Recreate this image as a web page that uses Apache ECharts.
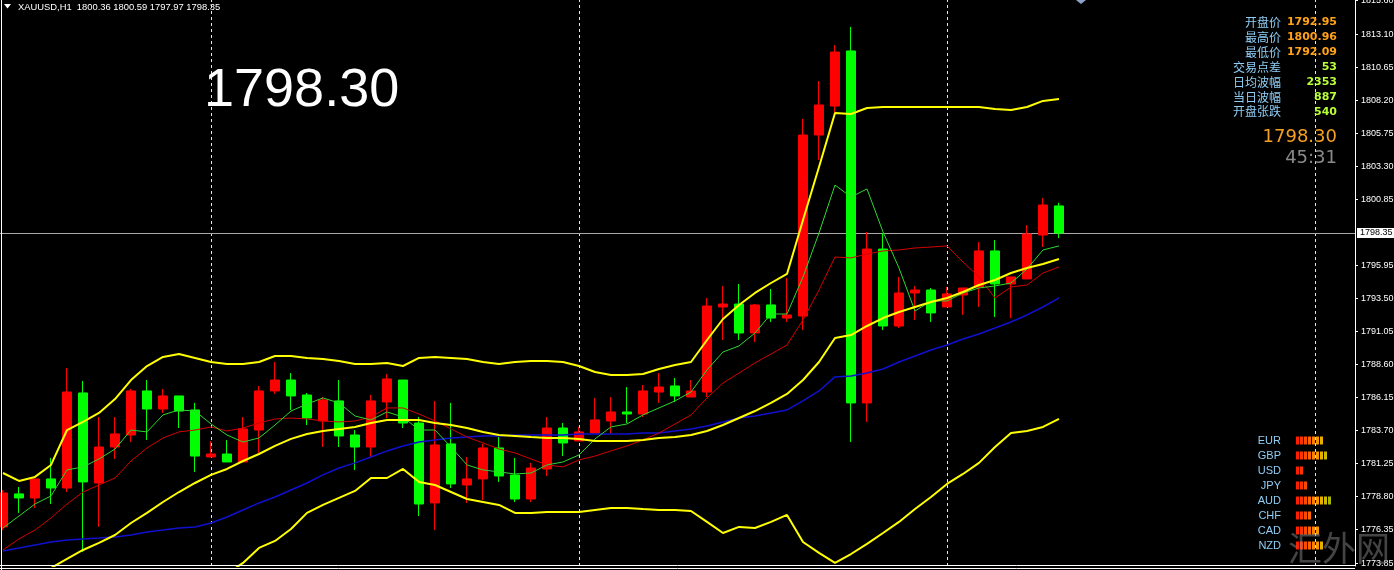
<!DOCTYPE html>
<html>
<head>
<meta charset="utf-8">
<title>XAUUSD,H1</title>
<script src="https://cdn.jsdelivr.net/npm/echarts@6/dist/echarts.min.js"></script>
<style>
  html, body { margin: 0; padding: 0; background: #000; }
  #main { width: 1394px; height: 570px; }
</style>
</head>
<body>
<div id="main"></div>
<script>
// 每根K线: [开盘, 收盘, 最低, 最高]
const candles = [
  [1776.54, 1779.06, 1776.31, 1779.28], [1778.99, 1778.69, 1777.58, 1779.50], [1778.69, 1780.10, 1777.95, 1780.10],
  [1780.10, 1779.43, 1778.24, 1781.66], [1779.43, 1786.55, 1779.13, 1788.33], [1786.48, 1779.88, 1774.68, 1787.37],
  [1779.80, 1782.47, 1776.54, 1784.70], [1782.47, 1783.44, 1781.58, 1784.70], [1783.36, 1786.63, 1782.84, 1786.78],
  [1786.63, 1785.29, 1782.99, 1787.44], [1785.29, 1786.26, 1785.00, 1786.78], [1786.26, 1785.14, 1783.88, 1786.26],
  [1785.22, 1781.80, 1780.62, 1785.74], [1781.73, 1781.95, 1781.73, 1782.92], [1781.95, 1781.36, 1781.36, 1782.99],
  [1781.36, 1783.81, 1781.36, 1784.70], [1783.73, 1786.63, 1782.03, 1787.00], [1786.63, 1787.44, 1786.41, 1788.78],
  [1787.44, 1786.26, 1785.22, 1787.96], [1786.33, 1784.62, 1784.10, 1786.48], [1784.40, 1785.96, 1782.47, 1786.18],
  [1785.89, 1783.29, 1782.47, 1787.44], [1783.36, 1782.47, 1780.77, 1783.73], [1782.47, 1785.89, 1781.73, 1786.33],
  [1785.81, 1787.52, 1784.62, 1787.89], [1787.44, 1784.25, 1783.88, 1787.44], [1784.25, 1778.24, 1777.35, 1784.70],
  [1778.32, 1782.62, 1776.31, 1785.89], [1782.70, 1779.73, 1779.43, 1785.74], [1779.65, 1780.10, 1778.32, 1781.73],
  [1780.10, 1782.40, 1778.54, 1782.70], [1782.40, 1780.32, 1779.88, 1783.21], [1780.39, 1778.61, 1778.39, 1781.66],
  [1778.61, 1780.91, 1778.39, 1781.29], [1780.84, 1783.88, 1780.32, 1784.70], [1783.88, 1782.77, 1781.80, 1784.25],
  [1782.92, 1783.59, 1782.92, 1783.96], [1783.51, 1784.48, 1783.51, 1786.11], [1784.40, 1785.07, 1783.51, 1786.18],
  [1785.07, 1784.92, 1784.25, 1786.92], [1784.92, 1786.63, 1784.70, 1787.07], [1786.55, 1786.92, 1785.74, 1787.96],
  [1787.00, 1786.26, 1785.81, 1787.59], [1786.18, 1786.63, 1786.18, 1787.44], [1786.55, 1792.93, 1786.18, 1793.53],
  [1792.86, 1793.08, 1790.41, 1794.42], [1793.08, 1790.93, 1790.41, 1794.57], [1790.93, 1793.01, 1790.26, 1793.08],
  [1793.01, 1792.04, 1791.75, 1794.20], [1792.04, 1792.27, 1791.75, 1795.01], [1792.19, 1805.62, 1791.15, 1806.81],
  [1805.62, 1807.85, 1803.77, 1809.63], [1807.77, 1811.78, 1807.26, 1812.30], [1811.86, 1785.74, 1782.84, 1813.64],
  [1785.74, 1797.16, 1784.33, 1798.43], [1797.16, 1791.45, 1791.15, 1798.35], [1791.45, 1793.90, 1791.30, 1795.09],
  [1793.90, 1794.12, 1791.90, 1794.42], [1794.12, 1792.42, 1791.75, 1794.27], [1792.86, 1793.83, 1792.86, 1794.34],
  [1793.75, 1794.27, 1792.27, 1794.27], [1794.34, 1797.02, 1792.86, 1797.68], [1797.02, 1794.57, 1792.12, 1797.83],
  [1794.57, 1795.09, 1792.04, 1795.09], [1794.94, 1798.28, 1794.94, 1798.94], [1798.20, 1800.43, 1797.31, 1800.95],
  [1800.36, 1798.35, 1797.97, 1800.59]
];

// 布林带
const bollUpper = [1780.54, 1779.95, 1780.25, 1781.14, 1783.73, 1784.33, 1785.00, 1786.03, 1787.44, 1788.48, 1789.15, 1789.37, 1789.08, 1788.78, 1788.63,
  1788.63, 1788.78, 1789.22, 1789.22, 1789.08, 1789.00, 1788.85, 1788.63, 1788.63, 1788.71, 1788.48, 1789.08, 1789.15, 1789.08, 1789.00,
  1788.78, 1788.63, 1788.78, 1788.85, 1788.85, 1788.78, 1788.48, 1788.04, 1787.82, 1787.82, 1787.89, 1788.26, 1788.56, 1788.78,
  1790.41, 1791.97, 1793.01, 1793.90, 1794.64, 1795.31, 1799.32, 1803.25, 1807.26, 1807.18, 1807.63, 1807.70, 1807.70, 1807.70,
  1807.70, 1807.70, 1807.70, 1807.70, 1807.55, 1807.48, 1807.70, 1808.15, 1808.29];
const bollMid = [1771.86, 1772.46, 1772.98, 1773.49, 1774.16, 1774.83, 1775.35, 1775.94, 1776.83, 1777.58, 1778.39, 1779.13, 1779.80, 1780.40, 1780.84,
  1781.43, 1781.95, 1782.55, 1783.07, 1783.44, 1783.66, 1783.81, 1783.96, 1784.25, 1784.48, 1784.48, 1784.48, 1784.25, 1784.10, 1783.88,
  1783.59, 1783.36, 1783.29, 1783.21, 1783.14, 1783.14, 1783.07, 1782.92, 1782.92, 1782.92, 1782.99, 1783.14, 1783.21, 1783.36,
  1783.66, 1784.10, 1784.62, 1785.14, 1785.74, 1786.41, 1787.44, 1788.78, 1790.56, 1790.78, 1791.45, 1792.04, 1792.49, 1792.86,
  1793.23, 1793.53, 1793.97, 1794.49, 1794.86, 1795.38, 1795.75, 1796.05, 1796.42];
const bollLower = [1763.18, 1764.97, 1765.71, 1765.84, 1764.59, 1765.33, 1765.70, 1765.85, 1766.22, 1766.68, 1767.63, 1768.89, 1770.52, 1772.02, 1773.05,
  1773.87, 1774.98, 1775.50, 1776.39, 1777.58, 1778.17, 1778.69, 1779.21, 1780.17, 1780.17, 1780.84, 1779.88, 1779.65, 1779.13, 1778.61,
  1778.39, 1778.17, 1777.58, 1777.58, 1777.65, 1777.65, 1777.65, 1777.80, 1777.95, 1777.95, 1777.87, 1777.80, 1777.80, 1777.72,
  1776.91, 1776.09, 1776.54, 1776.46, 1776.91, 1777.43, 1775.42, 1774.61, 1773.87, 1774.53, 1775.28, 1776.09, 1776.91, 1777.87,
  1778.76, 1779.73, 1780.47, 1781.29, 1782.47, 1783.51, 1783.66, 1783.96, 1784.55];

// 均线
const maGreen = [1776.46, 1777.35, 1778.24, 1778.84, 1780.77, 1780.99, 1781.58, 1782.32, 1783.73, 1783.59, 1784.85, 1785.22, 1785.14, 1784.18, 1783.36,
  1782.84, 1783.14, 1784.10, 1785.14, 1785.66, 1786.11, 1785.74, 1784.77, 1784.48, 1785.07, 1784.70, 1783.73, 1783.73, 1782.47, 1781.14,
  1780.77, 1780.62, 1780.47, 1780.54, 1781.14, 1781.36, 1781.88, 1783.07, 1783.96, 1784.18, 1784.85, 1785.37, 1785.89, 1786.55,
  1788.19, 1789.52, 1789.97, 1790.93, 1792.34, 1792.34, 1795.09, 1798.35, 1801.91, 1801.02, 1801.62, 1798.43, 1795.75, 1792.56,
  1793.31, 1793.31, 1793.90, 1794.27, 1794.42, 1794.64, 1795.68, 1797.09, 1797.39];
const maRed = [1774.83, 1775.65, 1776.31, 1777.20, 1778.24, 1779.13, 1779.65, 1780.17, 1781.43, 1782.40, 1783.14, 1783.59, 1783.73, 1783.96, 1783.66,
  1783.88, 1784.25, 1784.55, 1784.62, 1784.55, 1784.40, 1784.33, 1784.40, 1784.70, 1785.37, 1785.37, 1784.92, 1784.40, 1783.81, 1783.21,
  1782.77, 1782.32, 1782.03, 1781.58, 1781.14, 1780.99, 1781.51, 1781.80, 1782.18, 1782.55, 1782.99, 1783.51, 1784.18, 1784.85,
  1786.11, 1787.22, 1787.96, 1788.71, 1789.37, 1790.04, 1791.90, 1794.12, 1796.57, 1796.50, 1796.79, 1797.02, 1797.09, 1797.24,
  1797.31, 1797.39, 1796.20, 1795.09, 1793.53, 1794.34, 1794.49, 1795.38, 1795.83];
const maBlue = [1774.76, 1774.98, 1775.20, 1775.42, 1775.57, 1775.65, 1775.72, 1775.80, 1775.94, 1776.17, 1776.31, 1776.46, 1776.54, 1776.83, 1777.28,
  1777.80, 1778.32, 1778.76, 1779.28, 1779.80, 1780.40, 1780.91, 1781.29, 1781.73, 1782.18, 1782.55, 1782.84, 1782.99, 1783.14, 1783.21,
  1783.29, 1783.29, 1783.36, 1783.36, 1783.36, 1783.36, 1783.44, 1783.44, 1783.44, 1783.44, 1783.51, 1783.51, 1783.66, 1783.81,
  1784.03, 1784.33, 1784.62, 1784.77, 1785.00, 1785.22, 1785.89, 1786.63, 1787.67, 1787.74, 1787.96, 1788.26, 1788.78, 1789.22,
  1789.67, 1790.04, 1790.49, 1790.86, 1791.30, 1791.75, 1792.27, 1792.86, 1793.53];

// 价格轴刻度
const priceTicks = [1773.85, 1776.35, 1778.80, 1781.25, 1783.70, 1786.15, 1788.60, 1791.05, 1793.50, 1795.95,
  1800.85, 1803.30, 1805.75, 1808.20, 1810.65, 1813.10, 1815.60];
const lastPrice = 1798.35;
const gridBars = [13, 36, 59, 82]; // 竖虚线所在K线
const categories = Array.from({ length: 85 }, (_, i) => String(i));

const headerText = 'XAUUSD,H1  1800.36 1800.59 1797.97 1798.35';
const bigPrice = '1798.30';
const infoLabels = ['开盘价', '最高价', '最低价', '交易点差', '日均波幅', '当日波幅', '开盘张跌'];
const infoValues = ['1792.95', '1800.96', '1792.09', '53', '2353', '887', '540'];
const infoColors = ['#ffa21a', '#ffa21a', '#ffa21a', '#b8ff3a', '#b8ff3a', '#b8ff3a', '#b8ff3a'];
const timerText = '45:31';

// 货币强弱
const currencies = ['EUR', 'GBP', 'USD', 'JPY', 'AUD', 'CHF', 'CAD', 'NZD'];
const strength = [7, 8, 2, 3, 9, 4, 6, 7];
const barPalette = ['#ff1e00', '#ff3200', '#ff4a00', '#ff6400', '#ff7e00', '#f59600', '#e6b000', '#c8bc00', '#a8b800', '#94b000'];

const chart = echarts.init(document.getElementById('main'));

function lineSeries(name, data, color, width) {
    return {
        name: name,
        type: 'line',
        data: data,
        symbol: 'none',
        smooth: false,
        silent: true,
        z: 4,
        lineStyle: { color: color, width: width }
    };
}

const graphic = [
    { type: 'line', z: 100, shape: { x1: 1.5, y1: 0, x2: 1.5, y2: 570 }, style: { stroke: '#ffffff', lineWidth: 1 } },
    { type: 'line', z: 100, shape: { x1: 0, y1: 565.5, x2: 1355, y2: 565.5 }, style: { stroke: '#ffffff', lineWidth: 1 } },
    { type: 'line', z: 100, shape: { x1: 0, y1: 568.5, x2: 1355, y2: 568.5 }, style: { stroke: '#ffffff', lineWidth: 1 } },
    { type: 'polygon', z: 100, shape: { points: [[4, 4], [11, 4], [7.5, 8.5]] }, style: { fill: '#ffffff' } },
    { type: 'polygon', z: 100, shape: { points: [[1076, 0], [1086, 0], [1081, 4]] }, style: { fill: '#8fa3c8' } },
    {
        type: 'text', z: 100, x: 18, y: 7,
        style: { text: headerText, fill: '#ffffff', font: '9.4px "Liberation Sans", Arial, sans-serif',
            align: 'left', verticalAlign: 'middle', textAlign: 'left', textVerticalAlign: 'middle' }
    },
    {
        type: 'text', z: 100, x: 204, y: 91,
        style: { text: bigPrice, fill: '#ffffff', font: '54px "Liberation Sans", Arial, sans-serif',
            align: 'left', verticalAlign: 'middle', textAlign: 'left', textVerticalAlign: 'middle' }
    },
    {
        type: 'text', z: 100, x: 1337, y: 137,
        style: { text: bigPrice, fill: '#f5a020', font: '18px "DejaVu Sans", sans-serif',
            align: 'right', verticalAlign: 'middle', textAlign: 'right', textVerticalAlign: 'middle' }
    },
    {
        type: 'text', z: 100, x: 1337, y: 158,
        style: { text: timerText, fill: '#8a8a8a', font: '18px "DejaVu Sans", sans-serif',
            align: 'right', verticalAlign: 'middle', textAlign: 'right', textVerticalAlign: 'middle' }
    },
    {
        type: 'text', z: 90, x: 1288, y: 548,
        style: { text: '汇外网', fill: 'rgba(150,150,150,0.45)', font: '34px "Noto Sans CJK SC", sans-serif',
            align: 'left', verticalAlign: 'middle', textAlign: 'left', textVerticalAlign: 'middle' }
    }
];
infoLabels.forEach(function (label, i) {
    const y = 22.5 + i * 14.9;
    graphic.push({
        type: 'text', z: 100, x: 1281, y: y,
        style: { text: label, fill: '#8fcdf5', font: '12px "Noto Sans CJK SC", sans-serif',
            align: 'right', verticalAlign: 'middle', textAlign: 'right', textVerticalAlign: 'middle' }
    });
    graphic.push({
        type: 'text', z: 100, x: 1337, y: y,
        style: { text: infoValues[i], fill: infoColors[i], font: 'bold 11px "DejaVu Sans", sans-serif',
            align: 'right', verticalAlign: 'middle', textAlign: 'right', textVerticalAlign: 'middle' }
    });
});

const option = {
    backgroundColor: '#000000',
    animation: false,
    grid: [
        { left: -5, right: 39, top: 0, bottom: 4, outerBoundsMode: 'none', containLabel: false },
        { left: 1296, top: 433, width: 60, height: 120, outerBoundsMode: 'none', containLabel: false }
    ],
    xAxis: [
        {
            type: 'category', gridIndex: 0, data: categories, boundaryGap: true,
            axisLine: { show: false }, axisTick: { show: false }, axisLabel: { show: false }, splitLine: { show: false }
        },
        { type: 'value', gridIndex: 1, min: 0, max: 15, show: false }
    ],
    yAxis: [
        {
            type: 'value', gridIndex: 0, position: 'right',
            min: 1773.64, max: 1815.64, scale: true,
            splitLine: { show: false },
            axisLine: { show: true, lineStyle: { color: '#ffffff', width: 1 } },
            axisTick: { show: true, inside: false, length: 3, customValues: priceTicks, lineStyle: { color: '#ffffff' } },
            axisLabel: {
                customValues: priceTicks,
                formatter: function (v) { return v.toFixed(2); },
                color: '#ffffff', fontSize: 9, fontFamily: '"Liberation Sans", Arial, sans-serif', margin: 6
            }
        },
        {
            type: 'category', gridIndex: 1, data: currencies, inverse: true,
            axisLine: { show: false }, axisTick: { show: false }, splitLine: { show: false },
            axisLabel: { color: '#8fcdf5', fontSize: 11, fontFamily: '"Liberation Sans", Arial, sans-serif', margin: 15 }
        }
    ],
    series: [
        {
            // 网格竖虚线和现价线
            type: 'line', data: [], z: 1, silent: true,
            markLine: {
                silent: true, z: 1, symbol: ['none', 'none'], animation: false,
                data: gridBars.map(function (i) {
                    return {
                        xAxis: categories[i],
                        lineStyle: { color: '#e6e6e6', width: 1, type: [3, 3] },
                        label: { show: false }
                    };
                }).concat([{
                    yAxis: lastPrice,
                    lineStyle: { color: '#a8a8a8', width: 1, type: 'solid' },
                    label: {
                        show: true, position: 'end', distance: 2, formatter: lastPrice.toFixed(2),
                        color: '#000000', backgroundColor: '#ffffff', padding: [1, 3, 0, 3],
                        fontSize: 9, fontFamily: '"Liberation Sans", Arial, sans-serif'
                    }
                }])
            }
        },
        {
            name: 'XAUUSD', type: 'candlestick', data: candles, barWidth: 10, z: 3, silent: true,
            itemStyle: {
                color: '#ff0000', color0: '#00ff00',
                borderColor: '#ff0000', borderColor0: '#00ff00', borderWidth: 1
            }
        },
        lineSeries('MA蓝', maBlue, '#1010d0', 1.5),
        lineSeries('MA红', maRed, '#d40000', 1),
        lineSeries('MA绿', maGreen, '#2ed62e', 1),
        lineSeries('布林下轨', bollLower, '#ffff00', 2),
        lineSeries('布林中轨', bollMid, '#ffff00', 2),
        lineSeries('布林上轨', bollUpper, '#ffff00', 2),
        {
            type: 'custom', xAxisIndex: 1, yAxisIndex: 1, silent: true, z: 5,
            data: strength.map(function (v, i) { return [v, i]; }),
            encode: { x: 0, y: 1 },
            renderItem: function (params, api) {
                const n = api.value(0);
                const row = api.value(1);
                const children = [];
                for (let k = 0; k < n; k++) {
                    const p = api.coord([k, row]);
                    children.push({
                        type: 'rect',
                        shape: { x: p[0], y: p[1] - 4, width: 3, height: 8 },
                        style: { fill: barPalette[k] }
                    });
                }
                return { type: 'group', children: children };
            }
        }
    ],
    graphic: graphic
};

chart.setOption(option);
</script>
</body>
</html>
